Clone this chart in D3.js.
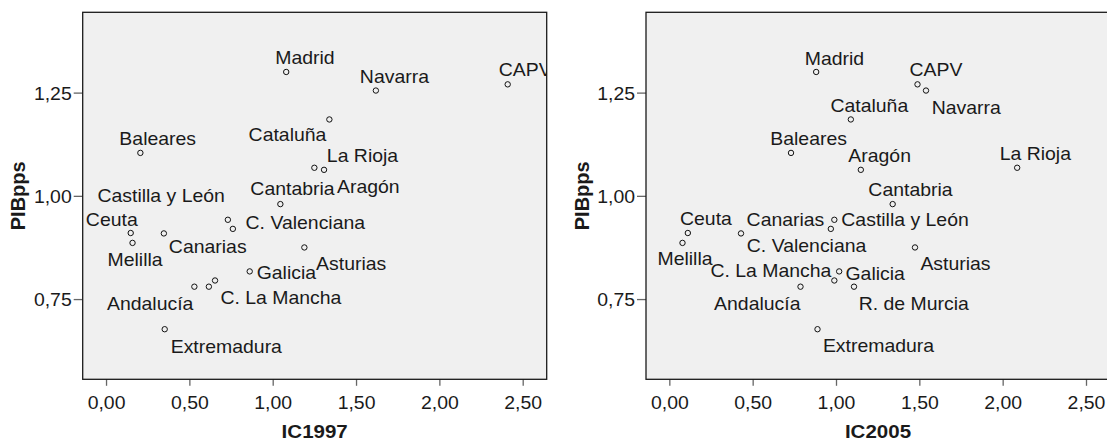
<!DOCTYPE html>
<html>
<head>
<meta charset="utf-8">
<script src="https://cdn.jsdelivr.net/npm/d3@7"></script>
<style>
  html, body { margin: 0; padding: 0; background: #ffffff; }
  svg { display: block; }
  text { font-family: "Liberation Sans", Arial, sans-serif; }
</style>
</head>
<body>
<svg id="chart" width="1107" height="442"></svg>
<script>
// ---------------- DATA ----------------
const regions = ["Madrid", "CAPV", "Navarra", "Cataluña", "Baleares", "La Rioja", "Aragón",
  "Cantabria", "Castilla y León", "C. Valenciana", "Ceuta", "Melilla", "Canarias",
  "Asturias", "Galicia", "C. La Mancha", "R. de Murcia", "Andalucía", "Extremadura"];
const pibpps = [1.300, 1.270, 1.255, 1.185, 1.104, 1.068, 1.063, 0.980, 0.942, 0.920,
  0.910, 0.886, 0.909, 0.875, 0.817, 0.795, 0.780, 0.780, 0.677];
const ic1997 = [1.081, 2.410, 1.619, 1.340, 0.206, 1.250, 1.308, 1.046, 0.731, 0.761,
  0.148, 0.159, 0.347, 1.190, 0.862, 0.654, 0.617, 0.530, 0.352];
const ic2005 = [0.881, 1.489, 1.540, 1.089, 0.730, 2.087, 1.149, 1.340, 0.990, 0.969,
  0.111, 0.079, 0.430, 1.474, 1.019, 0.990, 1.108, 0.787, 0.889];
const xTickValues = [0, 0.5, 1, 1.5, 2, 2.5];
const yTickValues = [0.75, 1.00, 1.25];
const xTitles = ["IC1997", "IC2005"];
const yTitle = "PIBpps";

// ---------------- LAYOUT (label placement, not data) ----------------
// [dx, dy, anchor] relative to the point; null = label hidden
const labelPos1997 = [[-11,-8,"start"],[-9,-8,"start"],[-16,-8,"start"],[-3,22,"end"],[-21,-8,"start"],
  [12.5,-6,"start"],[13,23,"start"],[-30,-9,"start"],[-3,-17.5,"end"],[12.7,0.5,"start"],
  [7,-7,"end"],[-25,23,"start"],[5,20,"start"],[11.7,22.7,"start"],[7,7.3,"start"],
  [5.4,23.3,"start"],null,[-1,23.3,"end"],[6,23.3,"start"]];
const labelPos2005 = [[-11.4,-7.3,"start"],[-8,-8.3,"start"],[5.7,23,"start"],[-20.4,-7.7,"start"],[-20.7,-8.3,"start"],
  [-17.5,-7.7,"start"],[-12.5,-8,"start"],[-24.3,-8,"start"],[7,6.6,"start"],[-84,23.3,"start"],
  [-7.8,-8.3,"start"],[-25,22.4,"start"],[5.6,-7,"start"],[5.4,22.7,"start"],[6.3,8.3,"start"],
  [-3,-3.7,"end"],[4.7,23,"start"],[0,23,"end"],[5.4,22.7,"start"]];

const panels = [
  { left: 82.7, xs: ic1997, title: xTitles[0], labels: labelPos1997 },
  { left: 646,  xs: ic2005, title: xTitles[1], labels: labelPos2005 }
];
const plotTop = 12.3, plotH = 367, plotW = 464;
const FONT = 18;
const SX = 1.08; // horizontal stretch of the original raster

const fmt = v => d3.format(".2f")(v).replace(".", ",");

const svg = d3.select("#chart");
const x = d3.scaleLinear().domain([-0.14, 2.644]).range([0, plotW]);
const y = d3.scaleLinear().domain([0.5557, 1.4445]).range([plotH, 0]);

panels.forEach((p, pi) => {
  const g = svg.append("g").attr("transform", `translate(${p.left},${plotTop})`);
  const clipId = "clip" + pi;
  g.append("clipPath").attr("id", clipId)
    .append("rect").attr("x", 0).attr("y", 0).attr("width", plotW).attr("height", plotH);

  g.append("rect").attr("x", 0).attr("y", 0).attr("width", plotW).attr("height", plotH)
    .attr("fill", "#f0f0f0");

  // axes
  const xAxis = d3.axisBottom(x).tickValues(xTickValues).tickFormat(fmt).tickSize(6.5).tickSizeOuter(0);
  const gx = g.append("g").attr("transform", `translate(0,${plotH})`).call(xAxis);
  gx.select(".domain").remove();
  gx.selectAll(".tick line").attr("stroke", "#666").attr("stroke-width", 1.3);
  gx.selectAll(".tick text").attr("font-size", FONT).attr("fill", "#1a1a1a")
    .attr("dy", null).attr("y", 30).attr("transform", `scale(${SX},1)`);

  const yAxis = d3.axisLeft(y).tickValues(yTickValues).tickFormat(fmt).tickSize(9).tickSizeOuter(0);
  const gy = g.append("g").call(yAxis);
  gy.select(".domain").remove();
  gy.selectAll(".tick line").attr("stroke", "#666").attr("stroke-width", 1.3);
  gy.selectAll(".tick text").attr("font-size", FONT).attr("fill", "#1a1a1a")
    .attr("x", -11 / SX).attr("dy", "0.36em").attr("transform", `scale(${SX},1)`);

  // frame
  g.append("rect").attr("x", 0).attr("y", 0).attr("width", plotW).attr("height", plotH)
    .attr("fill", "none").attr("stroke", "#1a1a1a").attr("stroke-width", 1.3);

  // points and labels
  const pg = g.append("g").attr("clip-path", `url(#${clipId})`);
  const data = regions.map((r, i) => ({ name: r, xv: p.xs[i], yv: pibpps[i], lab: p.labels[i] }));
  pg.selectAll("circle").data(data).join("circle")
    .attr("cx", d => x(d.xv)).attr("cy", d => y(d.yv)).attr("r", 2.7)
    .attr("fill", "none").attr("stroke", "#111").attr("stroke-width", 1);
  pg.selectAll("text").data(data.filter(d => d.lab)).join("text")
    .attr("transform", d => `translate(${x(d.xv) + d.lab[0]},${y(d.yv) + d.lab[1]}) scale(${SX},1)`)
    .attr("text-anchor", d => d.lab[2])
    .attr("font-size", FONT).attr("fill", "#1a1a1a")
    .text(d => d.name);

  // titles
  g.append("text").attr("transform", `translate(${plotW / 2},${plotH + 59}) scale(${SX},1)`)
    .attr("text-anchor", "middle").attr("font-size", 19).attr("font-weight", "bold")
    .attr("fill", "#1a1a1a").text(p.title);
  g.append("text")
    .attr("transform", `translate(${18.3 - p.left + 7 + (pi ? 563.3 : 0)},${plotH / 2}) rotate(-90)`)
    .attr("text-anchor", "middle").attr("font-size", 20).attr("font-weight", "bold")
    .attr("fill", "#1a1a1a").text(yTitle);
});
</script>
</body>
</html>
